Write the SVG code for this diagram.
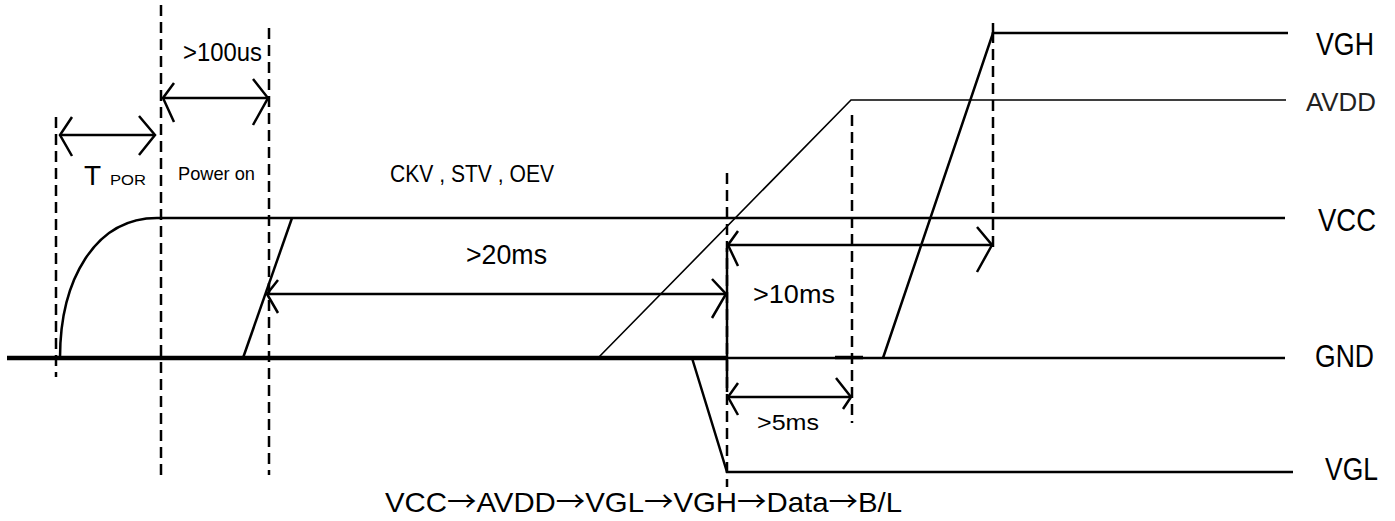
<svg xmlns="http://www.w3.org/2000/svg" width="1395" height="521" viewBox="0 0 1395 521">
<style>
.bg{fill:#ffffff}
.sig{fill:none;stroke:#000;stroke-width:2.5;stroke-linecap:butt}
.thin{fill:none;stroke:#000;stroke-width:1.6}
.gndthick{fill:none;stroke:#000;stroke-width:4.5}
.dash{fill:none;stroke:#000;stroke-width:2.5;stroke-dasharray:11 6}
.arr{fill:none;stroke:#000;stroke-width:2.5;stroke-linejoin:miter}
.t{font-family:"Liberation Sans",Arial,sans-serif;fill:#000}
.ar{font-family:"Noto Sans CJK SC","DejaVu Sans",sans-serif}
</style>
<rect class="bg" x="0" y="0" width="1395" height="521"/>

<g id="guides">
<line class="dash" x1="56" y1="117" x2="56" y2="377"/>
<line class="dash" x1="161" y1="5" x2="161" y2="475"/>
<line class="dash" x1="269" y1="28" x2="269" y2="475"/>
<line class="dash" x1="727" y1="173" x2="727" y2="487"/>
<line class="sig" x1="727" y1="248" x2="727" y2="392"/>
<line class="dash" x1="852" y1="115" x2="852" y2="423"/>
<line class="dash" x1="993" y1="32" x2="993" y2="248"/>
<line class="sig" x1="993" y1="23" x2="993" y2="34"/>
</g>

<g id="signals">
<g id="vgh"><path class="sig" d="M883,358 L993,33 L1288,33"/></g>
<g id="avdd"><path class="thin" d="M598,358 L851,100 L1286,100"/></g>
<g id="vcc"><path class="sig" d="M60,358 C60,280 95,218 157,218 L1285,218"/><line class="sig" x1="243" y1="358" x2="292" y2="218"/></g>
<g id="gnd"><line class="gndthick" x1="7" y1="358" x2="727" y2="358"/><line class="sig" x1="727" y1="358" x2="1285" y2="358"/><line class="sig" x1="835" y1="357.5" x2="863" y2="357.5" style="stroke-width:3.5"/></g>
<g id="vgl"><path class="sig" d="M692,358 L727,472 L1293,472"/></g>
</g>

<g id="connectors">
<g id="tpor-arrow"><line class="arr" x1="60" y1="135" x2="155" y2="135"/><path class="arr" d="M72,117 L60,135 L72,156"/><path class="arr" d="M139,116 L155,135 L139,155"/></g>
<g id="us100-arrow"><line class="arr" x1="163" y1="98" x2="268" y2="98"/><path class="arr" d="M174,83 L163,98 L174,122"/><path class="arr" d="M253,79 L268,98 L253,125"/></g>
<g id="ms20-arrow"><line class="arr" x1="267" y1="294" x2="726" y2="294"/><path class="arr" d="M278,280 L267,294 L278,313"/><path class="arr" d="M712,279 L726,294 L712,318"/></g>
<g id="ms10-arrow"><line class="arr" x1="728" y1="245" x2="992" y2="245"/><path class="arr" d="M738,231 L728,245 L738,266"/><path class="arr" d="M977,227 L992,245 L977,272"/></g>
<g id="ms5-arrow"><line class="arr" x1="728" y1="397" x2="851" y2="397"/><path class="arr" d="M738,383 L728,397 L738,415"/><path class="arr" d="M836,378 L851,397 L843,409"/></g>
</g>

<g id="labels">
<text class="t" x="183" y="61" font-size="26" textLength="79" lengthAdjust="spacingAndGlyphs">&gt;100us</text>
<text class="t" x="84" y="185" font-size="28">T</text>
<text class="t" x="110" y="185" font-size="15" textLength="36" lengthAdjust="spacingAndGlyphs">POR</text>
<text class="t" x="178" y="180" font-size="19" textLength="77" lengthAdjust="spacingAndGlyphs">Power on</text>
<text class="t" x="390" y="182" font-size="24" textLength="164" lengthAdjust="spacingAndGlyphs">CKV , STV , OEV</text>
<text class="t" x="466" y="264" font-size="27" textLength="81" lengthAdjust="spacingAndGlyphs">&gt;20ms</text>
<text class="t" x="753" y="303" font-size="26" textLength="82" lengthAdjust="spacingAndGlyphs">&gt;10ms</text>
<text class="t" x="757" y="430" font-size="22" textLength="62" lengthAdjust="spacingAndGlyphs">&gt;5ms</text>
<text class="t" x="1316" y="55" font-size="31" textLength="58" lengthAdjust="spacingAndGlyphs">VGH</text>
<text class="t" x="1306" y="111" font-size="25" textLength="70" lengthAdjust="spacingAndGlyphs" style="fill:#222">AVDD</text>
<text class="t" x="1318" y="231" font-size="31" textLength="58" lengthAdjust="spacingAndGlyphs">VCC</text>
<text class="t" x="1315" y="367" font-size="31" textLength="59" lengthAdjust="spacingAndGlyphs">GND</text>
<text class="t" x="1325" y="480" font-size="31" textLength="53" lengthAdjust="spacingAndGlyphs">VGL</text>
<text class="t" x="385" y="512" font-size="28" textLength="517" lengthAdjust="spacingAndGlyphs">VCC<tspan class="ar">→</tspan>AVDD<tspan class="ar">→</tspan>VGL<tspan class="ar">→</tspan>VGH<tspan class="ar">→</tspan>Data<tspan class="ar">→</tspan>B/L</text>
</g>
</svg>
